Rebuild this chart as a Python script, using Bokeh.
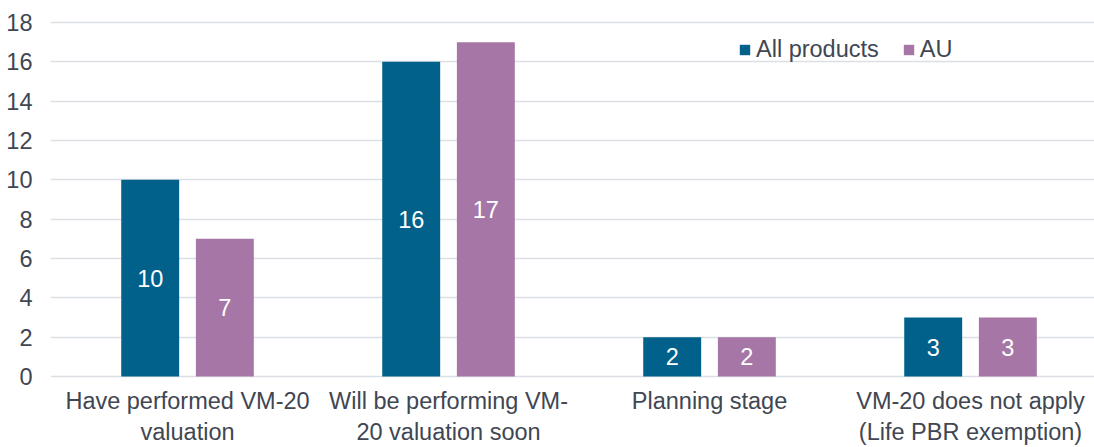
from bokeh.plotting import figure
from bokeh.models import Range1d, FixedTicker, ColumnDataSource, Legend, LegendItem
from bokeh.core.properties import value
from bokeh.embed import file_html
from bokeh.resources import INLINE

categories = ["Have performed VM-20\nvaluation",
              "Will be performing VM-\n20 valuation soon",
              "Planning stage",
              "VM-20 does not apply\n(Life PBR exemption)"]
all_products = [10, 16, 2, 3]
au = [7, 17, 2, 3]
series_names = ["All products", "AU"]
y_ticks = [0, 2, 4, 6, 8, 10, 12, 14, 16, 18]

TEAL = "#01618B"
PURPLE = "#A677A6"
TXT = "#404652"
FONT = "Liberation Sans"
FS = "23.5px"

bar_w = 0.222
off = 0.143

idx = list(range(len(categories)))

p = figure(width=1094, height=447, output_backend="svg", toolbar_location=None,
           x_range=Range1d(-0.525, 3.475), y_range=Range1d(-0.1, 18.1),
           min_border_left=50, min_border_right=0, min_border_top=20, min_border_bottom=68)
p.outline_line_color = None
p.background_fill_color = "white"
p.border_fill_color = "white"

src_a = ColumnDataSource(dict(x=[i - off for i in idx], top=all_products,
                              ly=[v / 2 for v in all_products], t=[str(v) for v in all_products]))
src_b = ColumnDataSource(dict(x=[i + off for i in idx], top=au,
                              ly=[v / 2 for v in au], t=[str(v) for v in au]))

ra = p.vbar(x="x", top="top", width=bar_w, source=src_a, fill_color=TEAL, line_color=None)
rb = p.vbar(x="x", top="top", width=bar_w, source=src_b, fill_color=PURPLE, line_color=None)

for s in (src_a, src_b):
    p.text(x="x", y="ly", text="t", source=s, text_color="white", text_align="center",
           text_baseline="middle", text_font=value(FONT), text_font_size=FS)

# axes
p.xaxis.ticker = FixedTicker(ticks=idx)
p.xaxis.major_label_overrides = {i: c for i, c in zip(idx, categories)}
p.yaxis.ticker = FixedTicker(ticks=y_ticks)
for ax in (p.xaxis[0], p.yaxis[0]):
    ax.axis_line_color = None
    ax.major_tick_line_color = None
    ax.minor_tick_line_color = None
    ax.major_label_text_font = FONT
    ax.major_label_text_font_size = FS
    ax.major_label_text_color = TXT
p.yaxis.major_label_standoff = 12
p.xaxis.major_label_standoff = 3

p.xgrid.grid_line_color = None
p.ygrid.ticker = FixedTicker(ticks=y_ticks)
p.ygrid.grid_line_color = "#DCE0E5"
p.ygrid.grid_line_width = 1.5

legend = Legend(items=[LegendItem(label=series_names[0], renderers=[ra]),
                       LegendItem(label=series_names[1], renderers=[rb])],
                orientation="horizontal", location=(688, 315))
legend.border_line_color = None
legend.background_fill_alpha = 0
legend.padding = 0
legend.margin = 0
legend.spacing = 23
legend.glyph_width = 13
legend.glyph_height = 13
legend.label_standoff = 5
legend.label_text_font = FONT
legend.label_text_font_size = FS
legend.label_text_color = TXT
p.add_layout(legend, "center")

open("out.html", "w").write(file_html(p, INLINE))
